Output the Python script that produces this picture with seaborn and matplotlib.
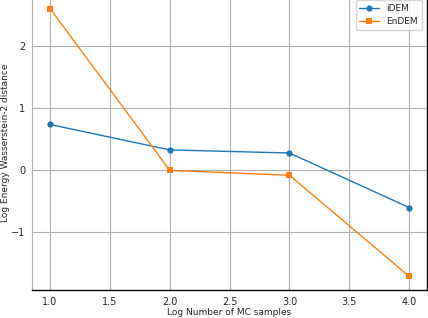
import matplotlib
matplotlib.use("Agg")
import matplotlib.pyplot as plt
import numpy as np
import pandas as pd
import seaborn as sns

# log10 of number of MC samples
log_samples = [1.0, 2.0, 3.0, 4.0]
idem_w2 = [0.74, 0.33, 0.28, -0.60]
endem_w2 = [2.61, 0.00, -0.08, -1.71]

sns.set_style("whitegrid")
plt.rcParams["font.family"] = ["DejaVu Sans"]

fig = plt.figure(figsize=(4.28, 3.18), dpi=100)
ax = fig.add_axes([0.075, 0.088, 0.923, 0.928])

sns.lineplot(x=log_samples, y=idem_w2, marker="o", color="#1f77b4",
             linewidth=1.0, markersize=4.5, markeredgewidth=0, label="iDEM", ax=ax)
sns.lineplot(x=log_samples, y=endem_w2, marker="s", color="#ff7f0e",
             linewidth=1.0, markersize=4.5, markeredgewidth=0, label="EnDEM", ax=ax)

ax.set_xlim(0.85, 4.15)
ax.set_ylim(-1.93, 2.83)
ax.set_xticks([1.0, 1.5, 2.0, 2.5, 3.0, 3.5, 4.0])
ax.set_yticks([-1, 0, 1, 2])
ax.set_yticklabels(["\u22121", "0", "1", "2"])
ax.tick_params(labelsize=7, length=3, width=0.8, color="#b0b0b0", pad=2)
ax.grid(True, color="#b0b0b0", linewidth=0.8)

ax.set_xlabel("Log Number of MC samples", fontsize=6.5, labelpad=1)
ax.set_ylabel("Log Energy Wasserstein-2 distance", fontsize=6.5, labelpad=1)

for side in ["bottom", "right"]:
    ax.spines[side].set_color("black")
    ax.spines[side].set_linewidth(1.0)
ax.spines["left"].set_color("#b0b0b0")
ax.spines["top"].set_visible(False)

ax.legend(loc="upper right", fontsize=6.5, frameon=True, handlelength=2.2,
          borderaxespad=0.6)

fig.savefig("out.png", dpi=100)
